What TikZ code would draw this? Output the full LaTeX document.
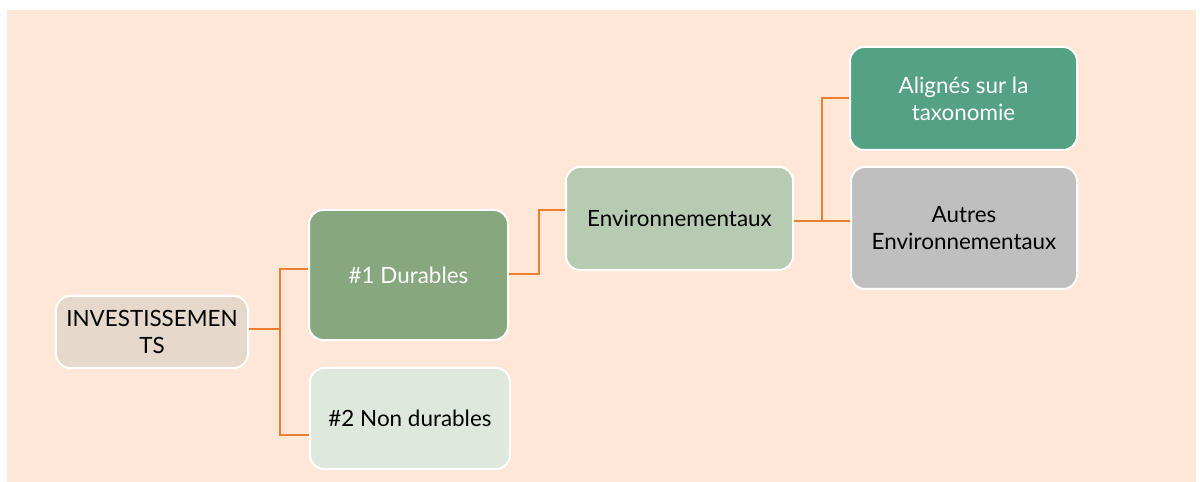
\documentclass[tikz,border=0pt]{standalone}
\usepackage{fontspec}
\setmainfont{Lato}
\definecolor{bgpeach}{HTML}{FEE7D7}
\definecolor{invfill}{HTML}{E6D8CB}
\definecolor{durfill}{HTML}{87A77F}
\definecolor{nondurfill}{HTML}{DFE8DC}
\definecolor{envfill}{HTML}{B7CAB2}
\definecolor{alifill}{HTML}{55A183}
\definecolor{autfill}{HTML}{BFBFBF}
\definecolor{conn}{HTML}{ED7D31}
\begin{document}
\begin{tikzpicture}[x=1bp,y=-1bp,
  box/.style={draw=white, line width=2bp, rounded corners=14bp, align=center, inner sep=0pt,
    font=\fontsize{22.5}{27}\selectfont},
  link/.style={draw=conn, line width=2bp}]
\useasboundingbox (0,0) rectangle (1200,482);
\fill[bgpeach] (7,10) rectangle (1196,482);
\node[box, fill=invfill, minimum width=192bp, minimum height=72bp] (inv) at (152,332) {INVESTISSEMEN\\TS};
\node[box, fill=durfill, text=white, minimum width=199bp, minimum height=130bp] (dur) at (408.5,275) {\#1 Durables};
\node[box, fill=nondurfill, minimum width=200bp, minimum height=101bp] (ndur) at (410,418.5) {\#2 Non durables};
\node[box, fill=envfill, minimum width=227bp, minimum height=103bp] (env) at (679.5,218.5) {Environnementaux};
\node[box, fill=alifill, text=white, minimum width=227bp, minimum height=103bp] (ali) at (963.5,98.5) {Alignés sur la\\taxonomie};
\node[box, fill=autfill, minimum width=226bp, minimum height=122bp] (aut) at (964,228) {Autres\\Environnementaux};
\coordinate (j1) at ([xshift=31bp,yshift=3bp]inv.east);
\coordinate (j2) at ([xshift=30bp,yshift=1bp]dur.east);
\coordinate (j3) at ([xshift=28bp,yshift=-2.5bp]env.east);
\draw[link] ([yshift=3bp]inv.east) -- (j1) |- ([yshift=6bp]dur.west);
\draw[link] (j1) |- ([yshift=-16.5bp]ndur.west);
\draw[link] ([yshift=1bp]dur.east) -- (j2) |- ([yshift=8.5bp]env.west);
\draw[link] ([yshift=-2.5bp]env.east) -- (j3) |- (ali.west);
\draw[link] (j3) -- (j3 -| aut.west);
\end{tikzpicture}
\end{document}
